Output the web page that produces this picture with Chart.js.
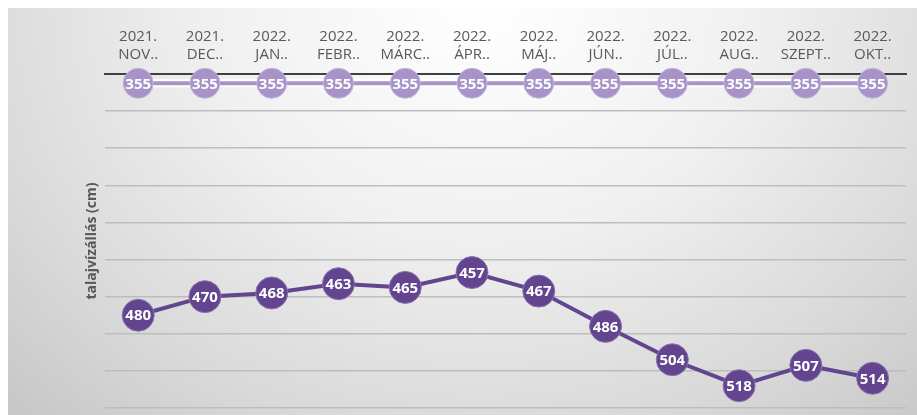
<!DOCTYPE html>
<html>
<head>
<meta charset="utf-8">
<script src="https://cdn.jsdelivr.net/npm/chart.js@4"></script>
<style>
  html, body { margin: 0; padding: 0; background: #ffffff; }
  #wrap {
    position: absolute; left: 0; top: 0; width: 917px; height: 415px;
  }
  #bg {
    position: absolute; left: 8px; top: 8px; width: 909px; height: 407px;
    background: radial-gradient(ellipse 75% 140% at 52% 0%, #ffffff 0%, #f0f0f0 40%, #d9d9d9 75%, #c6c6c6 100%);
  }
  canvas { display: block; position: absolute; left: 0; top: 0; }
</style>
</head>
<body>
<div id="wrap"><div id="bg"></div><canvas id="c" width="917" height="415"></canvas></div>
<script>
const yearLabels = ["2021.", "2021.", "2022.", "2022.", "2022.", "2022.", "2022.", "2022.", "2022.", "2022.", "2022.", "2022."];
const monthLabels = ["NOV..", "DEC..", "JAN..", "FEBR..", "MÁRC..", "ÁPR..", "MÁJ..", "JÚN..", "JÚL..", "AUG..", "SZEPT..", "OKT.."];
const referenceLevel = [355, 355, 355, 355, 355, 355, 355, 355, 355, 355, 355, 355];
const groundwaterLevel = [480, 470, 468, 463, 465, 457, 467, 486, 504, 518, 507, 514];
const yMin = 350, yMax = 530, yStep = 20;
const yTitle = "talajvízállás (cm)";

const categories = yearLabels.map((y, i) => [y, monthLabels[i]]);

const labelPlugin = {
  id: 'pointLabels',
  afterDatasetsDraw(chart) {
    const ctx = chart.ctx;
    ctx.save();
    ctx.font = 'bold 15px "Open Sans", sans-serif';
    ctx.fillStyle = '#ffffff';
    ctx.textAlign = 'center';
    ctx.textBaseline = 'middle';
    chart.data.datasets.forEach((ds, di) => {
      if (!ds.showLabels) return;
      const meta = chart.getDatasetMeta(di);
      meta.data.forEach((el, i) => {
        ctx.fillText(String(ds.data[i]), el.x, el.y + 1);
      });
    });
    ctx.restore();
  }
};

new Chart(document.getElementById('c'), {
  type: 'line',
  data: {
    labels: categories,
    datasets: [
      {
        data: groundwaterLevel,
        borderColor: '#63448e',
        backgroundColor: '#63448e',
        borderWidth: 4,
        pointRadius: 16,
        pointHoverRadius: 16,
        pointBorderWidth: 1,
        pointBorderColor: '#8a72ad',
        showLabels: true,
        clip: false,
        order: 1
      },
      {
        data: referenceLevel,
        borderColor: '#a793c8',
        backgroundColor: '#a793c8',
        borderWidth: 4,
        pointRadius: 15,
        pointHoverRadius: 15,
        pointBorderWidth: 1,
        pointBorderColor: '#c4b6da',
        showLabels: true,
        clip: false,
        order: 2
      },
      {
        data: referenceLevel,
        borderColor: '#ffffff',
        borderWidth: 8,
        pointRadius: 0,
        showLabels: false,
        clip: false,
        order: 3
      }
    ]
  },
  options: {
    responsive: false,
    animation: false,
    devicePixelRatio: 1,
    layout: { autoPadding: false, padding: { left: 84, right: 11, top: 18, bottom: 7 } },
    plugins: { legend: { display: false }, tooltip: { enabled: false } },
    scales: {
      x: {
        position: 'top',
        offset: true,
        grid: { display: false, drawTicks: false },
        border: { display: true, color: '#404040', width: 2 },
        ticks: {
          color: '#595959',
          font: { family: '"Open Sans", sans-serif', size: 15, lineHeight: 1.2 },
          padding: 10,
          maxRotation: 0,
          autoSkip: false
        }
      },
      y: {
        reverse: true,
        min: yMin,
        max: yMax,
        grid: { color: '#bdbdbd', lineWidth: 1.5, drawTicks: false },
        border: { display: false },
        ticks: { display: false, stepSize: yStep },
        title: {
          display: true,
          text: yTitle,
          color: '#595959',
          font: { family: '"Open Sans", sans-serif', size: 14, weight: 'bold' },
          padding: { top: 0, bottom: 4 }
        }
      }
    }
  },
  plugins: [labelPlugin]
});
</script>
</body>
</html>
